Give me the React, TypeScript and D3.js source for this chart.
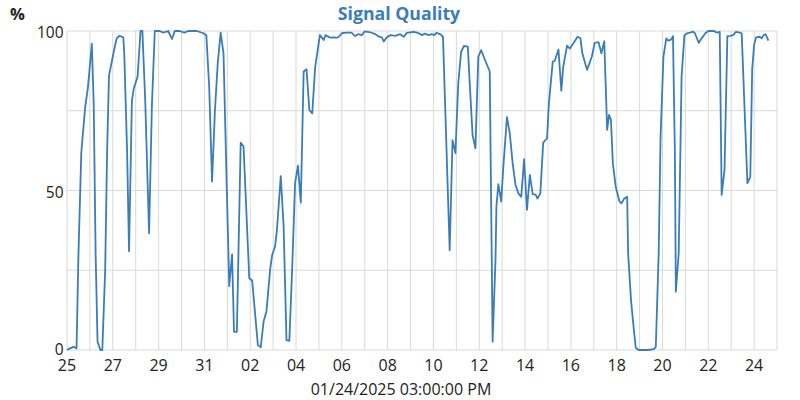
import React from "react";
import * as d3 from "d3";

// hours since 2024-12-25 00:00 (UTC)
const hours = [
  0, 3, 7, 10, 12, 15, 19, 22, 26, 28, 30, 32, 35, 37, 40, 42, 44, 49, 52, 55,
  59, 60, 63, 65, 68, 70, 74, 77, 79, 82, 86, 89, 92, 97, 101, 106, 110, 113, 118, 123,
  127, 136, 143, 146, 149, 152, 155, 158, 161, 164, 167, 170, 173, 175, 178, 182, 185, 191, 194, 200,
  203, 206, 209, 213, 215, 218, 220, 224, 227, 230, 233, 236, 239, 242, 245, 248, 251, 254, 257, 260,
  265, 269, 271, 276, 279, 283, 285, 288, 293, 298, 302, 305, 309, 312, 318, 323, 327, 330, 332, 335,
  339, 344, 349, 353, 356, 363, 368, 372, 375, 379, 382, 385, 387, 391, 394, 401, 404, 407, 410, 413,
  416, 420, 422, 425, 428, 431, 434, 438, 443, 446, 449, 450, 452, 455, 457, 461, 464, 467, 470, 473,
  476, 479, 482, 485, 488, 491, 493, 496, 499, 503, 505, 509, 511, 515, 518, 520, 524, 527, 531, 535,
  538, 540, 543, 545, 550, 553, 557, 560, 563, 566, 568, 570, 572, 575, 579, 581, 584, 587, 588, 591,
  594, 596, 599, 604, 609, 615, 617, 620, 622, 625, 628, 630, 633, 635, 637, 638, 641, 643, 644, 647,
  650, 653, 656, 658, 662, 665, 669, 672, 678, 681, 684, 686, 689, 692, 695, 698, 701, 705, 707, 713,
  716, 718, 720, 722, 726, 728, 730, 732, 734, 735,
];

const quality = [
  0, 0.5, 1, 0.5, 30, 62, 76, 82.5, 96, 77, 30, 2.6, 0, 0, 25, 62, 86, 93.5, 97.7, 98.5,
  98, 93, 62, 31, 78, 82, 85.7, 100, 100, 78, 36.6, 77, 100, 100, 99.5, 100, 97.5, 100, 100, 99.5,
  100, 100, 99.3, 98.7, 82.5, 52.8, 75, 90, 99.5, 93, 56, 20, 30, 5.7, 5.7, 65, 63.8, 22.5, 21.8, 1.6,
  0.8, 8.9, 12.1, 25.6, 29.8, 32.4, 37.6, 54.5, 38.7, 3.1, 2.9, 26, 52.3, 57.8, 46.2, 87.3, 88, 75.2, 74.2, 88.5,
  98.7, 97.2, 98.7, 97.9, 98, 97.9, 98.2, 99.3, 99.5, 99.5, 98.4, 99, 98.7, 99.9, 99.6, 99, 98.2, 98, 96.7, 98,
  98.7, 98.5, 99, 98.2, 99.4, 99.7, 99.4, 98.7, 99.2, 98.7, 99, 98.7, 99.4, 99, 98.2, 31.3, 65.8, 61.7, 83.6, 93.5,
  95.3, 95.1, 83.6, 67.4, 63.2, 92, 94, 90.9, 87.3, 2.6, 28.2, 45, 52, 46.5, 56.4, 73, 67.9, 58.5, 51.7, 49.1,
  48, 59.8, 43.9, 54.9, 48.9, 48.7, 47.5, 49.1, 65, 66.3, 77.3, 90.4, 90.6, 94.2, 81.3, 88.8, 95.4, 94.5, 96.3, 98.2,
  97.7, 93, 89.9, 87.8, 92, 96.3, 96.5, 93, 96.8, 69, 73.7, 72.1, 58.5, 51.2, 46.5, 46, 47.5, 48, 30.3, 15.7,
  6.3, 0.7, 0, 0, 0, 0.3, 1, 30, 66.9, 92, 97.7, 97, 97.3, 98.4, 61.7, 18.3, 30.3, 66.9, 85.7, 98.7,
  99.3, 99.5, 99.8, 99.3, 96.3, 97.7, 99.3, 100, 100, 99.5, 99.7, 48.6, 56.4, 98.4, 98.5, 98.7, 99.7, 99.5, 99.3, 52.3,
  54.3, 88, 95.6, 98, 98.2, 97.7, 98.7, 99, 97.7, 97,
];

const yTickValues = [0, 50, 100];
const yGridValues = [0, 25, 50, 75, 100];
const titleText = "Signal Quality";
const unitText = "%";
const footerText = "01/24/2025 03:00:00 PM";

const startDate = new Date(Date.UTC(2024, 11, 25));
const endDate = new Date(Date.UTC(2025, 0, 25));

export default function App() {
  const W = 800;
  const H = 400;
  const m = { left: 67, right: 23, top: 31, bottom: 50 };
  const x = d3.scaleUtc().domain([startDate, endDate]).range([m.left, W - m.right]);
  const y = d3.scaleLinear().domain([0, 100]).range([H - m.bottom, m.top]);

  const data = hours.map((h, i) => ({ t: new Date(startDate.getTime() + h * 3600000), v: quality[i] }));
  const line = d3
    .line<{ t: Date; v: number }>()
    .x((d) => x(d.t))
    .y((d) => y(d.v));

  const dayGrid = d3.utcDay.range(startDate, d3.utcDay.offset(endDate, 1));
  const xTicks = d3.range(0, 31, 2).map((i) => d3.utcDay.offset(startDate, i));
  const fmt = d3.utcFormat("%d");
  const font = "'Open Sans', 'Noto Sans', sans-serif";
  const gridColor = "#d9d9d9";

  return (
    <svg width={W} height={H} style={{ position: "absolute", left: 0, top: 0 }} fontFamily={font}>
      <rect width={W} height={H} fill="#fff" />
      {dayGrid.map((d, i) => (
        <line key={"v" + i} x1={x(d)} x2={x(d)} y1={y(100)} y2={y(0)} stroke={gridColor} strokeWidth={1} />
      ))}
      {yGridValues.map((v) => (
        <line key={"h" + v} x1={m.left} x2={W - m.right} y1={y(v)} y2={y(v)} stroke={gridColor} strokeWidth={1} />
      ))}
      <path d={line(data) || ""} fill="none" stroke="#3a7db8" strokeWidth={1.8} strokeLinejoin="round" />
      {yTickValues.map((v) => (
        <text key={"yl" + v} x={m.left - 3.5} y={y(v) + (v === 0 ? 5 : 7)} textAnchor="end" fontSize={15.5} fill="#222">
          {v}
        </text>
      ))}
      {xTicks.map((d, i) => (
        <text key={"xl" + i} x={x(d)} y={371} textAnchor="middle" fontSize={16} fill="#222">
          {fmt(d)}
        </text>
      ))}
      <text x={399} y={20} textAnchor="middle" fontSize={17.7} fontWeight="bold" fill="#3a7db8">
        {titleText}
      </text>
      <text x={10} y={19.5} fontSize={16.5} fontWeight="bold" fill="#222">
        {unitText}
      </text>
      <text x={401} y={395} textAnchor="middle" fontSize={16} fill="#222">
        {footerText}
      </text>
    </svg>
  );
}
